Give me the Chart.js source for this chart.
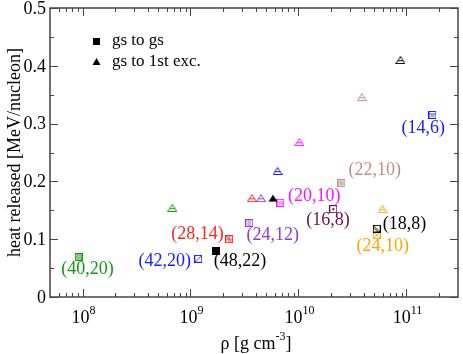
<!DOCTYPE html>
<html>
<head>
<meta charset="utf-8">
<script src="https://cdn.jsdelivr.net/npm/chart.js@4.4.1/dist/chart.umd.min.js"></script>
<style>
  body { margin: 0; background: #fff; }
  #wrap { width: 463px; height: 354px; }
</style>
</head>
<body>
<div id="wrap"><canvas id="heat-chart" width="463" height="354"></canvas></div>
<script>
// nuclei (Z... pairs as printed on the plot)
const nuclei = ['(40,20)', '(42,20)', '(28,14)', '(48,22)', '(24,12)', '(20,10)', '(22,10)', '(14,6)', '(16,8)', '(18,8)', '(24,10)'];
// gs to gs transitions
const gsDensity = [9.2e7, 1.18e9, 2.28e9, 1.73e9, 3.5e9, 6.8e9, 2.5e10, 1.74e11, 2.1e10, 5.3e10, 5.3e10];
const gsHeat = [0.069, 0.066, 0.100, 0.080, 0.128, 0.163, 0.197, 0.315, 0.152, 0.118, 0.107];
// gs to 1st excited transitions (null = none)
const excDensity = [6.8e8, 6.4e9, 3.7e9, 5.8e9, 4.5e9, 1.02e10, 3.86e10, null, null, 8.8e10, 6.0e10];
const excHeat = [0.154, 0.218, 0.171, 0.171, 0.171, 0.268, 0.346, null, null, 0.410, 0.152];
// where each nucleus label sits (data coords)
const labelDensity = [1.11e8, 5.77e8, 1.16e9, 2.88e9, 5.77e9, 1.40e10, 5.08e10, 1.43e11, 1.88e10, 9.6e10, 6.03e10];
const labelHeat = [0.048, 0.062, 0.109, 0.061, 0.107, 0.175, 0.220, 0.292, 0.133, 0.125, 0.087];
// axis ticks
const xTicks = [1e8, 1e9, 1e10, 1e11];
const yTicks = [0, 0.1, 0.2, 0.3, 0.4, 0.5];

const colors = ['#119911', '#1a1aff', '#ff2222', '#000000', '#9438d0', '#ff11ff', '#bc8f8f', '#1a1aff', '#6b0f4c', '#000000', '#ffa500'];
const fills = ['check', 'slash', 'cross', 'solid', 'vert', 'horiz', 'grid', 'box', 'dot', 'backslash', 'xcross'];

const SERIF = '"Liberation Serif", "DejaVu Serif", serif';

// small marker images with the hatch pattern inside
function makeMarker(shape, color, fill) {
  const c = document.createElement('canvas');
  const w = shape == 'tri' ? 10 : 8;
  const h = 8;
  c.width = w; c.height = h;
  const g = c.getContext('2d');
  g.strokeStyle = color;
  g.fillStyle = color;
  g.lineWidth = 1;
  if (shape == 'tri') {
    g.beginPath();
    g.moveTo(w / 2, 0.5); g.lineTo(w - 0.5, h - 0.5); g.lineTo(0.5, h - 0.5); g.closePath();
    if (fill == 'solid') { g.fill(); }
    else {
      g.stroke();
      g.save(); g.clip();
      g.globalAlpha = 0.8;
      g.fillRect(0, 4, w, 1.2);
      g.restore();
    }
    return c;
  }
  if (fill == 'solid') { g.fillRect(0, 0, w, h); return c; }
  g.strokeRect(0.5, 0.5, w - 1, h - 1);
  g.beginPath();
  if (fill == 'check') {
    for (let i = 1; i < 7; i++) for (let j = 1; j < 7; j++) if ((i + j) % 2 == 0) g.fillRect(i, j, 1, 1);
  } else if (fill == 'slash') {
    g.moveTo(1, 7); g.lineTo(7, 1);
  } else if (fill == 'backslash') {
    g.moveTo(1, 1); g.lineTo(7, 7); g.moveTo(1, 3); g.lineTo(5, 7);
  } else if (fill == 'cross') {
    g.moveTo(1, 4); g.lineTo(7, 4); g.moveTo(4, 1); g.lineTo(4, 7);
    g.moveTo(1, 1); g.lineTo(7, 7);
  } else if (fill == 'vert') {
    g.moveTo(3, 1); g.lineTo(3, 7); g.moveTo(5, 1); g.lineTo(5, 7);
  } else if (fill == 'horiz') {
    g.moveTo(1, 3); g.lineTo(7, 3); g.moveTo(1, 5); g.lineTo(7, 5);
  } else if (fill == 'grid') {
    g.moveTo(1, 3); g.lineTo(7, 3); g.moveTo(1, 5); g.lineTo(7, 5);
    g.moveTo(3, 1); g.lineTo(3, 7); g.moveTo(5, 1); g.lineTo(5, 7);
  } else if (fill == 'box') {
    g.moveTo(1, 3); g.lineTo(7, 3); g.moveTo(2, 5); g.lineTo(6, 5);
  } else if (fill == 'dot') {
    g.fillRect(3, 3, 2, 2);
  } else if (fill == 'xcross') {
    g.moveTo(1, 1); g.lineTo(7, 7); g.moveTo(7, 1); g.lineTo(1, 7);
  }
  g.globalAlpha = 0.85;
  g.stroke();
  return c;
}

// one dataset per nucleus: square for gs->gs, triangle for gs->1st exc.
const datasets = nuclei.map(function (name, i) {
  const pts = [{ x: gsDensity[i], y: gsHeat[i] }];
  const styles = [makeMarker('sq', colors[i], fills[i])];
  if (excDensity[i] != null) {
    pts.push({ x: excDensity[i], y: excHeat[i] });
    styles.push(makeMarker('tri', colors[i], fills[i]));
  }
  return {
    label: name,
    data: pts,
    pointStyle: styles,
    showLine: false,
    borderColor: colors[i],
    backgroundColor: colors[i]
  };
});

function supText(ctx, base, sup, cx, baseline, size) {
  ctx.font = size + 'px ' + SERIF;
  const w1 = ctx.measureText(base).width;
  ctx.font = Math.round(size * 0.66) + 'px ' + SERIF;
  const w2 = ctx.measureText(sup).width;
  const x0 = cx - (w1 + w2) / 2;
  ctx.textAlign = 'left';
  ctx.textBaseline = 'alphabetic';
  ctx.font = size + 'px ' + SERIF;
  ctx.fillText(base, x0, baseline);
  ctx.font = Math.round(size * 0.66) + 'px ' + SERIF;
  ctx.fillText(sup, x0 + w1, baseline - size * 0.5);
}

const decorPlugin = {
  id: 'decor',
  afterDraw(chart) {
    const ctx = chart.ctx;
    const a = chart.chartArea;
    const xs = chart.scales.x, ys = chart.scales.y;
    ctx.save();
    // frame
    ctx.strokeStyle = '#444';
    ctx.lineWidth = 1.5;
    ctx.strokeRect(a.left, a.top, a.right - a.left, a.bottom - a.top);

    // inward ticks on all four sides
    ctx.lineWidth = 1;
    ctx.beginPath();
    for (let k = 0; k <= 10; k++) {
      const py = Math.round(ys.getPixelForValue(k * 0.05)) + 0.5;
      const len = k % 2 == 0 ? 8 : 4;
      ctx.moveTo(a.left, py); ctx.lineTo(a.left + len, py);
      ctx.moveTo(a.right, py); ctx.lineTo(a.right - len, py);
    }
    for (let e = 7; e <= 11; e++) {
      for (let m = 1; m <= 9; m++) {
        const v = m * Math.pow(10, e);
        if (v <= xs.min || v >= xs.max) continue;
        const px = Math.round(xs.getPixelForValue(v)) + 0.5;
        const len = m == 1 ? 8 : 4;
        ctx.moveTo(px, a.bottom); ctx.lineTo(px, a.bottom - len);
        ctx.moveTo(px, a.top); ctx.lineTo(px, a.top + len);
      }
    }
    ctx.stroke();

    // tick labels
    ctx.fillStyle = '#000';
    ctx.font = '18px ' + SERIF;
    ctx.textAlign = 'right';
    ctx.textBaseline = 'middle';
    yTicks.forEach(function (v) {
      ctx.fillText(v == 0 ? '0' : v.toFixed(1), a.left - 4, ys.getPixelForValue(v) + 1);
    });
    xTicks.forEach(function (v) {
      supText(ctx, '10', String(Math.round(Math.log10(v))), xs.getPixelForValue(v) + 1, a.bottom + 26, 18);
    });

    // axis titles
    ctx.font = '18px ' + SERIF;
    const t1 = 'ρ [g cm', t2 = '-3', t3 = ']';
    const w1 = ctx.measureText(t1).width, w3 = ctx.measureText(t3).width;
    ctx.font = '12px ' + SERIF;
    const w2 = ctx.measureText(t2).width;
    let x0 = 256 - (w1 + w2 + w3) / 2;
    ctx.textAlign = 'left'; ctx.textBaseline = 'alphabetic';
    ctx.font = '18px ' + SERIF; ctx.fillText(t1, x0, 349);
    ctx.font = '12px ' + SERIF; ctx.fillText(t2, x0 + w1, 340);
    ctx.font = '18px ' + SERIF; ctx.fillText(t3, x0 + w1 + w2, 349);

    ctx.save();
    ctx.translate(15, (a.top + a.bottom) / 2);
    ctx.rotate(-Math.PI / 2);
    ctx.textAlign = 'center'; ctx.textBaseline = 'middle';
    ctx.font = '18px ' + SERIF;
    ctx.fillText('heat released [MeV/nucleon]', 0, 0);
    ctx.restore();

    // legend
    ctx.fillStyle = '#000';
    ctx.fillRect(93, 38, 7, 7);
    ctx.beginPath();
    ctx.moveTo(96.5, 58); ctx.lineTo(100.5, 65); ctx.lineTo(92.5, 65); ctx.closePath(); ctx.fill();
    ctx.font = '17px ' + SERIF;
    ctx.textAlign = 'left'; ctx.textBaseline = 'middle';
    ctx.fillText('gs to gs', 112, 41);
    ctx.fillText('gs to 1st exc.', 112, 62);

    // nucleus labels
    ctx.font = '18px ' + SERIF;
    ctx.textAlign = 'center';
    nuclei.forEach(function (name, i) {
      ctx.fillStyle = colors[i];
      ctx.fillText(name, xs.getPixelForValue(labelDensity[i]), ys.getPixelForValue(labelHeat[i]));
    });
    ctx.restore();
  }
};

new Chart(document.getElementById('heat-chart'), {
  type: 'scatter',
  data: { datasets: datasets },
  options: {
    responsive: false,
    animation: false,
    layout: { padding: { left: 50, right: 2, top: 8, bottom: 57 } },
    plugins: { legend: { display: false }, tooltip: { enabled: false } },
    scales: {
      x: { type: 'logarithmic', min: 5e7, max: 3e11, display: false },
      y: { type: 'linear', min: 0, max: 0.5, display: false }
    }
  },
  plugins: [decorPlugin]
});
</script>
</body>
</html>
